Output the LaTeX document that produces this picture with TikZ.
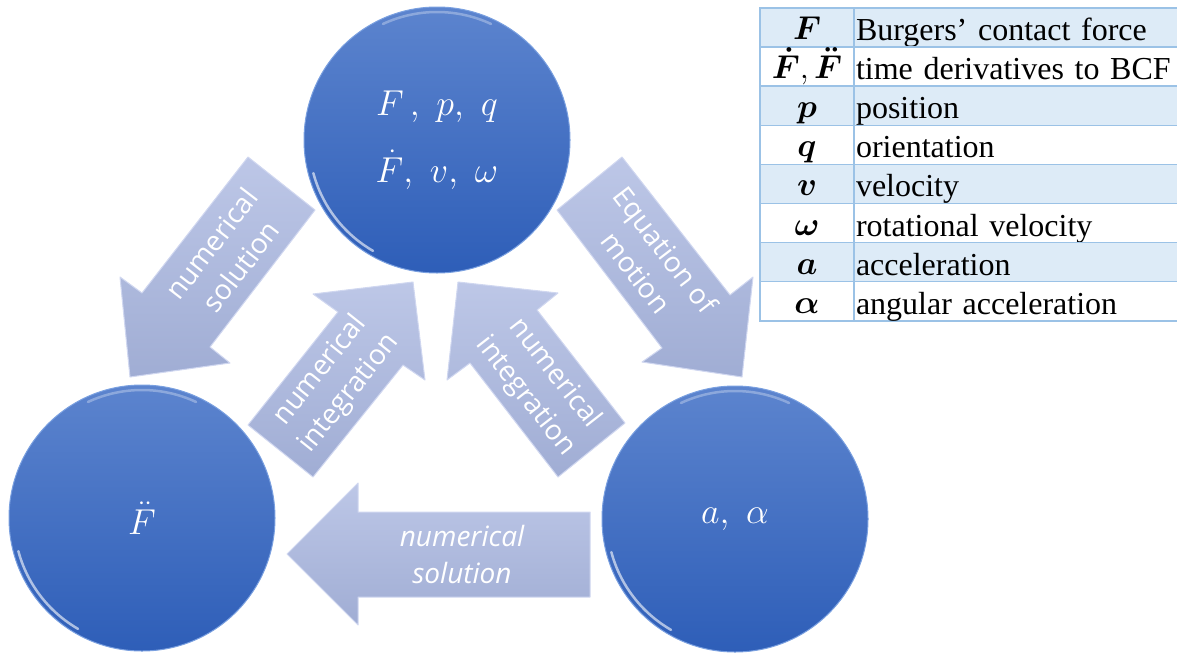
\RequirePackage{fix-cm}
\documentclass[tikz,border=0pt]{standalone}
\usepackage{amsmath}
\usepackage{fontspec}
\newfontfamily\tabfont{Liberation Serif}
\newfontfamily\arrfont{Open Sans}
\usetikzlibrary{positioning}

\definecolor{ballTop}{RGB}{92,132,206}
\definecolor{ballBot}{RGB}{46,94,184}
\definecolor{ballRim}{RGB}{122,160,224}
\definecolor{arrTop}{RGB}{189,199,231}
\definecolor{arrBot}{RGB}{160,173,212}
\definecolor{arrEdge}{RGB}{208,215,240}
\definecolor{tabline}{RGB}{155,194,230}
\definecolor{tabfill}{RGB}{221,235,247}

\begin{document}
\begin{tikzpicture}[
    x=1pt, y=-1pt,
    ball/.style={circle, minimum size=266pt, inner sep=0pt, top color=ballTop,
                 bottom color=ballBot, draw=ballRim, line width=1pt, text=white,
                 align=center, font=\fontsize{36}{67}\selectfont},
    rim/.style={white, line width=2.5pt, line cap=round, opacity=.6},
    blockarr/.style={top color=arrTop, bottom color=arrBot, draw=arrEdge,
                 line width=1pt, line join=round},
    arrtext/.style={text=white, align=center, inner sep=0pt,
                 font=\arrfont\fontsize{28}{37}\selectfont},
    symcell/.style={draw=tabline, line width=1.5pt, outer sep=0pt, inner sep=0pt,
                 minimum width=94pt, minimum height=39.1pt,
                 text height=28pt, text depth=4pt, font=\fontsize{33}{38}\selectfont},
    txtcell/.style={draw=tabline, line width=1.5pt, outer sep=0pt, inner ysep=0pt,
                 inner xsep=2pt, text width=325pt, align=left, minimum height=39.1pt,
                 text height=29pt, text depth=3pt, font=\tabfont\fontsize{32}{38}\selectfont},
    oddrow/.style={fill=tabfill}
]
\useasboundingbox (0,0) rectangle (1177,653);

% circles
\node[ball] (state) at (437,140) {$F\,,\ p,\ q$\\$\dot{F},\ v,\ \omega$};
\node[ball] (fdd)   at (142,518) {$\ddot{F}$};
\node[ball] (acc)   at (735,519) {$a,\ \alpha$};

\draw[rim] ([shift={(195:128pt)}]state.center) arc[start angle=195, end angle=240, radius=128pt];
\draw[rim] ([shift={(195:128pt)}]fdd.center) arc[start angle=195, end angle=240, radius=128pt];
\draw[rim] ([shift={(195:128pt)}]acc.center) arc[start angle=195, end angle=240, radius=128pt];
\draw[rim, opacity=.3] ([shift={(65:128pt)}]state.center) arc[start angle=65, end angle=115, radius=128pt];
\draw[rim, opacity=.3] ([shift={(65:128pt)}]fdd.center) arc[start angle=65, end angle=115, radius=128pt];
\draw[rim, opacity=.3] ([shift={(65:128pt)}]acc.center) arc[start angle=65, end angle=115, radius=128pt];

% block arrows
\draw[blockarr] (248,157) -- (315,210) -- (210,347) -- (230,363) -- (130,377) -- (120,277) -- (142,293) -- cycle;
\node[arrtext, rotate=52.5] (solL) at (226,255) {numerical\\solution};

\draw[blockarr] (248,425) -- (338,312) -- (313,294) -- (413,282) -- (425,380) -- (403,365) -- (313,477) -- cycle;
\node[arrtext, rotate=51.5] (intL) at (335,382) {numerical\\integration};

\draw[blockarr] (625,423) -- (537,310) -- (558,293) -- (458,282) -- (447,380) -- (470,363) -- (558,477) -- cycle;
\node[arrtext, rotate=-52] (intR) at (540,385) {numerical\\integration};

\draw[blockarr] (622,157) -- (730,295) -- (753,277) -- (742,377) -- (642,362) -- (662,348) -- (557,210) -- cycle;
\node[arrtext, rotate=-52.5] (eqm) at (651,261) {Equation of\\motion};

\draw[blockarr] (590,512) -- (358,512) -- (358,483) -- (287,554) -- (358,625) -- (358,597) -- (590,597) -- cycle;
\node[arrtext, font=\arrfont\itshape\fontsize{28}{37}\selectfont] (solB) at (462,554) {numerical\\solution};

% table
\node[symcell, oddrow, anchor=north west] (symF) at (760,8) {$\boldsymbol{F}$};
\node[txtcell, oddrow, right=0pt of symF] (txtF) {Burgers’ contact force};
\node[symcell, below=0pt of symF] (symdF) {$\boldsymbol{\dot{F}}, \boldsymbol{\ddot{F}}$};
\node[txtcell, right=0pt of symdF] (txtdF) {time derivatives to BCF};
\node[symcell, oddrow, below=0pt of symdF] (symp) {$\boldsymbol{p}$};
\node[txtcell, oddrow, right=0pt of symp] (txtp) {position};
\node[symcell, below=0pt of symp] (symq) {$\boldsymbol{q}$};
\node[txtcell, right=0pt of symq] (txtq) {orientation};
\node[symcell, oddrow, below=0pt of symq] (symv) {$\boldsymbol{v}$};
\node[txtcell, oddrow, right=0pt of symv] (txtv) {velocity};
\node[symcell, below=0pt of symv] (symw) {$\boldsymbol{\omega}$};
\node[txtcell, right=0pt of symw] (txtw) {rotational velocity};
\node[symcell, oddrow, below=0pt of symw] (syma) {$\boldsymbol{a}$};
\node[txtcell, oddrow, right=0pt of syma] (txta) {acceleration};
\node[symcell, below=0pt of syma] (symal) {$\boldsymbol{\alpha}$};
\node[txtcell, right=0pt of symal] (txtal) {angular acceleration};
\end{tikzpicture}
\end{document}
